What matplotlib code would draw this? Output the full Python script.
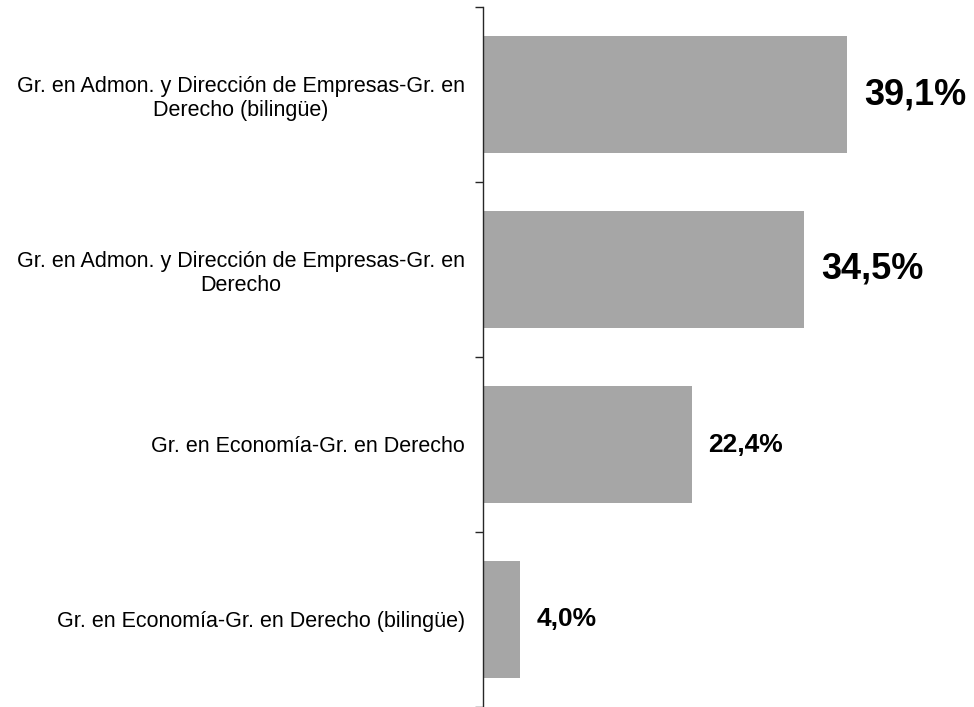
import numpy as np
import matplotlib.pyplot as plt

plt.rcParams['font.family'] = ['Liberation Sans', 'DejaVu Sans']

# datos
categorias = [
    "Gr. en Admon. y Dirección de Empresas-Gr. en\nDerecho (bilingüe)",
    "Gr. en Admon. y Dirección de Empresas-Gr. en\nDerecho",
    "Gr. en Economía-Gr. en Derecho",
    "Gr. en Economía-Gr. en Derecho (bilingüe)",
]
valores = [39.1, 34.5, 22.4, 4.0]
etiquetas = ["39,1%", "34,5%", "22,4%", "4,0%"]
tam_etiqueta = [26, 26, 19, 19]

fig = plt.figure(figsize=(9.74, 7.07), dpi=100)
# eje vertical en x=483 px, ~9.31 px por unidad
ax = fig.add_axes([483 / 974, 0, 465.5 / 974, 700 / 707])

y = np.arange(len(valores))
ax.barh(y, valores, height=0.67, color="#A6A6A6")
ax.set_xlim(0, 50)
ax.set_ylim(len(valores) - 0.5, -0.5)

for yi, v, t, s in zip(y, valores, etiquetas, tam_etiqueta):
    ax.text(v + 1.8, yi, t, va="center", ha="left", fontsize=s, fontweight="bold")

for s in ["top", "right", "bottom"]:
    ax.spines[s].set_visible(False)
ax.spines["left"].set_linewidth(1.0)
ax.spines["left"].set_color("#262626")
ax.set_xticks([])

# marcas entre categorias
ax.set_yticks(np.arange(-0.5, len(valores), 1.0))
ax.set_yticklabels([])
ax.tick_params(axis="y", length=6, width=1.0, color="#262626")

# nombres a la izquierda del eje
ax.set_yticks(y, minor=True)
ax.set_yticklabels(categorias, minor=True, fontsize=15.5, multialignment="center")
ax.tick_params(axis="y", which="minor", length=0, pad=13)

fig.savefig("out.png", dpi=100)
